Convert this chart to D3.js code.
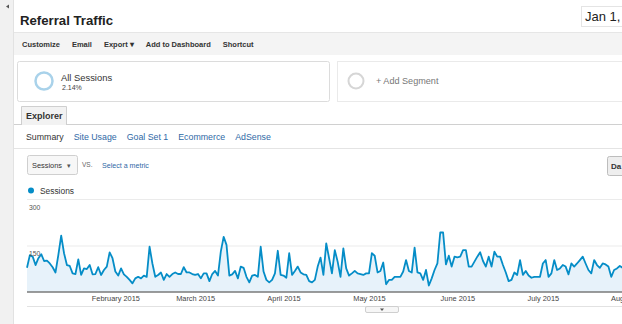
<!DOCTYPE html>
<html>
<head>
<meta charset="utf-8">
<script src="https://cdn.jsdelivr.net/npm/d3@7"></script>
<style>
    body { margin: 0; background: #fff; overflow: hidden; }
    text { font-family: "Liberation Sans", Arial, sans-serif; }
</style>
</head>
<body>
<svg id="page" width="622" height="324"></svg>
<script>
// report data
var reportTitle = "Referral Traffic";
var dateLabel = "Jan 1,";
var toolbarItems = ["Customize", "Email", "Export \u25BE", "Add to Dashboard", "Shortcut"];
var segmentName = "All Sessions";
var segmentShare = "2.14%";
var reportTabs = ["Summary", "Site Usage", "Goal Set 1", "Ecommerce", "AdSense"];
var metricName = "Sessions";

// daily sessions from 2015-01-01
var startDate = "2015-01-01";
var sessions = [
    78, 119, 114, 87, 109, 122, 100, 101, 92, 80,
    63, 120, 182, 125, 87, 84, 60, 58, 105, 55,
    76, 74, 87, 57, 58, 80, 55, 71, 82, 128,
    109, 66, 53, 76, 57, 49, 39, 28, 44, 49,
    44, 53, 49, 146, 92, 49, 55, 63, 39, 58,
    49, 58, 63, 58, 58, 80, 63, 63, 58, 55,
    58, 44, 60, 60, 35, 58, 68, 53, 130, 178,
    152, 53, 57, 68, 44, 82, 78, 49, 31, 53,
    55, 49, 146, 66, 39, 31, 39, 60, 133, 55,
    53, 46, 125, 55, 68, 82, 63, 57, 55, 35,
    31, 39, 82, 111, 55, 157, 109, 60, 135, 98,
    49, 141, 76, 53, 60, 68, 60, 58, 55, 60,
    60, 125, 117, 63, 68, 95, 25, 39, 39, 49,
    49, 49, 66, 103, 68, 63, 143, 63, 60, 39,
    71, 21, 44, 71, 92, 192, 192, 89, 117, 82,
    114, 112, 114, 135, 135, 82, 82, 98, 114, 128,
    100, 82, 114, 82, 130, 114, 114, 87, 63, 35,
    39, 63, 55, 103, 55, 68, 53, 46, 49, 49,
    49, 92, 103, 49, 60, 103, 71, 76, 87, 82,
    57, 92, 82, 92, 103, 114, 92, 71, 60, 103,
    87, 78, 92, 89, 82, 49, 71, 76, 84, 78
];
var yTicks = [150, 300];
var monthTicks = ["2015-02-01", "2015-03-01", "2015-04-01", "2015-05-01", "2015-06-01", "2015-07-01", "2015-08-01"];

var svg = d3.select("#page");
var W = 622;

// left sidebar
svg.append("rect").attr("x", 0).attr("y", 0).attr("width", 13).attr("height", 324).attr("fill", "#f1f1f1");
svg.append("line").attr("x1", 13.5).attr("x2", 13.5).attr("y1", 0).attr("y2", 324).attr("stroke", "#e2e2e2");
svg.append("path").attr("d", "M6,6.5 L9,4.5 L9,8.5 Z").attr("fill", "#555");

// title + date
svg.append("text").attr("x", 20).attr("y", 25)
    .style("font-size", "13.2px").style("font-weight", "bold").attr("fill", "#222")
    .text(reportTitle);
svg.append("rect").attr("x", 581.5).attr("y", 6.5).attr("width", 50).attr("height", 20)
    .attr("fill", "#fff").attr("stroke", "#e4e4e4");
svg.append("text").attr("x", 585).attr("y", 21)
    .style("font-size", "13px").attr("fill", "#222").text(dateLabel);

// toolbar
svg.append("rect").attr("x", 14).attr("y", 32).attr("width", W).attr("height", 23).attr("fill", "#f4f4f4");
svg.append("line").attr("x1", 14).attr("x2", W).attr("y1", 32.5).attr("y2", 32.5).attr("stroke", "#e6e6e6");
var tx = 22;
toolbarItems.forEach(function (t) {
    var el = svg.append("text").attr("x", tx).attr("y", 47)
        .style("font-size", "7.5px").style("font-weight", "bold").attr("fill", "#333").text(t);
    tx += el.node().getComputedTextLength() + 12;
});

// segments
svg.append("rect").attr("x", 17.5).attr("y", 61.5).attr("width", 312).attr("height", 40).attr("rx", 2)
    .attr("fill", "#fff").attr("stroke", "#dcdcdc");
svg.append("circle").attr("cx", 44).attr("cy", 81).attr("r", 8.5)
    .attr("fill", "none").attr("stroke", "#a9d2ea").attr("stroke-width", 2.5);
svg.append("text").attr("x", 61).attr("y", 81).style("font-size", "9.4px").attr("fill", "#333").text(segmentName);
svg.append("text").attr("x", 62).attr("y", 89.5).style("font-size", "7px").attr("fill", "#444").text(segmentShare);

svg.append("rect").attr("x", 337.5).attr("y", 61.5).attr("width", 300).attr("height", 40)
    .attr("fill", "#fff").attr("stroke", "#d4d4d4").attr("stroke-dasharray", "1,1");
svg.append("circle").attr("cx", 356).attr("cy", 81).attr("r", 7.5)
    .attr("fill", "none").attr("stroke", "#d6d6d6").attr("stroke-width", 2);
svg.append("text").attr("x", 376).attr("y", 83.5).style("font-size", "9.1px").attr("fill", "#777").text("+ Add Segment");

// explorer tab
svg.append("line").attr("x1", 14).attr("x2", W).attr("y1", 124.5).attr("y2", 124.5).attr("stroke", "#d0d0d0");
svg.append("path").attr("d", "M21.5,125 L21.5,106.5 L66.5,106.5 L66.5,125")
    .attr("fill", "#f2f2f2").attr("stroke", "#cfcfcf");
svg.append("text").attr("x", 26).attr("y", 119)
    .style("font-size", "9px").style("font-weight", "bold").attr("fill", "#333").text("Explorer");

var rx = 26;
reportTabs.forEach(function (t, i) {
    var el = svg.append("text").attr("x", rx).attr("y", 140)
        .style("font-size", "8.8px").attr("fill", i === 0 ? "#333" : "#2f69a6").text(t);
    rx += el.node().getComputedTextLength() + 10;
});
svg.append("line").attr("x1", 14).attr("x2", W).attr("y1", 148.5).attr("y2", 148.5).attr("stroke", "#e4e4e4");

// metric picker
svg.append("rect").attr("x", 27.5).attr("y", 155.5).attr("width", 50).attr("height", 19).attr("rx", 2)
    .attr("fill", "#f7f7f7").attr("stroke", "#cfcfcf");
svg.append("text").attr("x", 32).attr("y", 168).style("font-size", "7.4px").attr("fill", "#333").text(metricName);
svg.append("text").attr("x", 67).attr("y", 168).style("font-size", "7px").attr("fill", "#555").text("\u25BE");
svg.append("text").attr("x", 82).attr("y", 167).style("font-size", "6.5px").attr("fill", "#666").text("VS.");
svg.append("text").attr("x", 102).attr("y", 168).style("font-size", "7.1px").attr("fill", "#2f69a6").text("Select a metric");
svg.append("rect").attr("x", 607.5).attr("y", 156.5).attr("width", 30).attr("height", 19).attr("rx", 2)
    .attr("fill", "#eeeeee").attr("stroke", "#bdbdbd");
svg.append("text").attr("x", 611).attr("y", 169).style("font-size", "8px").style("font-weight", "bold").attr("fill", "#333").text("Da");

// legend
svg.append("circle").attr("cx", 31).attr("cy", 190.5).attr("r", 3).attr("fill", "#058dc7");
svg.append("text").attr("x", 40).attr("y", 194).style("font-size", "8.4px").attr("fill", "#333").text(metricName);

// chart
var parse = d3.timeParse("%Y-%m-%d");
var t0 = parse(startDate);
var data = sessions.map(function (v, i) {
    return {date: d3.timeDay.offset(t0, i), value: v};
});

var x = d3.scaleTime()
    .domain([t0, parse("2015-08-01")])
    .range([27, 27 + 212 * 2.85]);
var y = d3.scaleLinear().domain([0, 300]).range([292, 199]);

var grid = svg.append("g");
yTicks.forEach(function (t) {
    grid.append("line").attr("x1", 27).attr("x2", W).attr("y1", y(t) + 0.5).attr("y2", y(t) + 0.5)
        .attr("stroke", "#ebebeb");
});

var area = d3.area()
    .x(function (d) { return x(d.date); })
    .y0(y(0))
    .y1(function (d) { return y(d.value); });
var line = d3.line()
    .x(function (d) { return x(d.date); })
    .y(function (d) { return y(d.value); });

svg.append("path").datum(data).attr("d", area).attr("fill", "#e7f2fa");
svg.append("path").datum(data).attr("d", line)
    .attr("fill", "none").attr("stroke", "#058dc7").attr("stroke-width", 1.8).attr("stroke-linejoin", "round");

// y labels sit just under their gridline
var yAxis = svg.append("g")
    .attr("transform", "translate(29,8)")
    .call(d3.axisRight(y).tickValues(yTicks).tickSize(0).tickPadding(0));
yAxis.select(".domain").remove();
yAxis.selectAll("text").attr("dy", "0.32em")
    .style("font-size", "6.8px").style("font-family", "Liberation Sans, Arial, sans-serif").attr("fill", "#555");

svg.append("line").attr("x1", 27).attr("x2", W).attr("y1", 292).attr("y2", 292)
    .attr("stroke", "#7a7a7a").attr("stroke-width", 1.6);

var xAxis = svg.append("g")
    .attr("transform", "translate(0,292)")
    .call(d3.axisBottom(x)
        .tickValues(monthTicks.map(parse))
        .tickFormat(d3.timeFormat("%B %Y"))
        .tickSize(0).tickPadding(4));
xAxis.select(".domain").remove();
xAxis.selectAll("text")
    .style("font-size", "7.4px").style("font-family", "Liberation Sans, Arial, sans-serif").attr("fill", "#444");

svg.append("line").attr("x1", 27).attr("x2", W).attr("y1", 306.5).attr("y2", 306.5).attr("stroke", "#e2e2e2");

// resize handle
svg.append("rect").attr("x", 365.5).attr("y", 306.5).attr("width", 33).attr("height", 6).attr("rx", 1.5)
    .attr("fill", "#f6f6f6").attr("stroke", "#cfcfcf");
svg.append("path").attr("d", "M380,308.5 L384,308.5 L382,311 Z").attr("fill", "#555");
</script>
</body>
</html>
